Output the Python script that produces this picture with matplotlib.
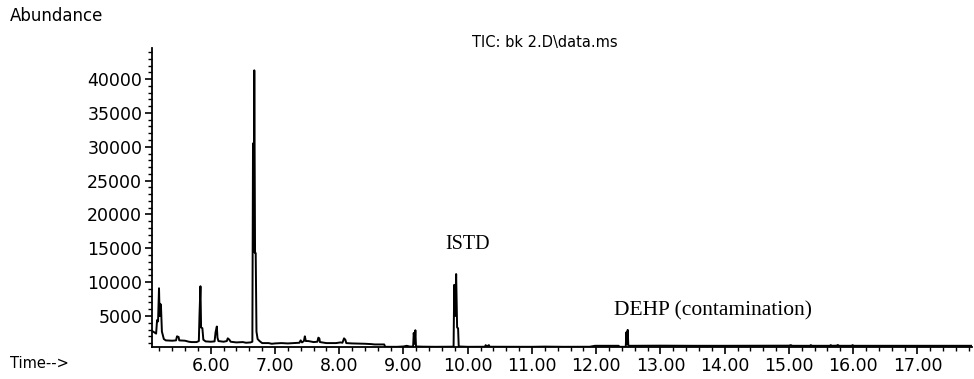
import matplotlib
matplotlib.use("Agg")
import matplotlib.pyplot as plt
from matplotlib.ticker import MultipleLocator

# Retention time (min) and abundance
time = [5.085, 5.12, 5.15, 5.165, 5.18, 5.195, 5.205, 5.215, 5.225, 5.24, 5.27, 5.30,
        5.40, 5.46, 5.475, 5.50, 5.51, 5.60, 5.66, 5.70, 5.78, 5.815, 5.825, 5.84,
        5.85, 5.87, 5.885, 5.92, 6.00, 6.06, 6.075, 6.095, 6.105, 6.12, 6.20, 6.25,
        6.265, 6.29, 6.31, 6.40, 6.50, 6.55, 6.62, 6.648, 6.658, 6.668, 6.678, 6.690,
        6.700, 6.712, 6.73, 6.76, 6.80, 6.90, 6.95, 7.00, 7.10, 7.20, 7.30, 7.38,
        7.40, 7.42, 7.45, 7.465, 7.48, 7.52, 7.60, 7.66, 7.675, 7.69, 7.70, 7.80,
        7.95, 8.02, 8.05, 8.075, 8.095, 8.11, 8.20, 8.40, 8.50, 8.55, 8.70, 8.715,
        8.90, 9.00, 9.05, 9.10, 9.15, 9.16, 9.175, 9.185, 9.195, 9.30, 9.50, 9.70,
        9.78, 9.79, 9.805, 9.82, 9.835, 9.85, 9.86, 10.00, 10.27, 10.28, 10.29, 10.33,
        10.34, 11.00, 11.20, 11.50, 11.90, 11.98, 12.35, 12.36, 12.46, 12.47, 12.48, 12.49,
        12.50, 12.55, 13.00, 13.50, 14.00, 15.00, 15.03, 15.05, 15.33, 15.34, 15.36, 15.64,
        15.65, 15.67, 15.75, 15.76, 15.78, 15.98, 15.99, 16.01, 16.50, 17.00, 17.85]
abundance = [2800, 2600, 2400, 4400, 4200, 9100, 5000, 6800, 6600, 2700, 1600, 1400,
             1350, 1400, 2000, 1900, 1400, 1350, 1200, 1150, 1150, 1300, 5100, 9400,
             3300, 3200, 1500, 1250, 1200, 1250, 2600, 3450, 1800, 1300, 1200, 1300,
             1700, 1500, 1200, 1100, 1150, 1050, 1100, 1200, 30500, 14500, 41300, 14300,
             14300, 2700, 1600, 1300, 1000, 1000, 900, 950, 1000, 950, 1000, 1050,
             1400, 1100, 1300, 2000, 1300, 1300, 1150, 1200, 1800, 1700, 1150, 1000,
             1000, 1100, 1050, 1700, 1500, 1000, 950, 900, 850, 800, 800, 450,
             450, 500, 600, 480, 480, 2500, 900, 2900, 500, 470, 450, 460,
             470, 9600, 5000, 11200, 3300, 3200, 500, 450, 460, 700, 460, 700,
             460, 450, 480, 450, 460, 600, 600, 450, 450, 2600, 900, 2950,
             600, 600, 620, 600, 600, 620, 700, 600, 600, 700, 600, 600,
             700, 600, 620, 720, 600, 600, 700, 600, 600, 600, 600]

y_ticks = [5000, 10000, 15000, 20000, 25000, 30000, 35000, 40000]
x_ticks = [6, 7, 8, 9, 10, 11, 12, 13, 14, 15, 16, 17]

fig = plt.figure(figsize=(9.74, 3.79), dpi=100)
ax = fig.add_axes([0.156, 0.0844, 0.842, 0.789])
ax.plot(time, abundance, color='black', linewidth=1.4)

ax.set_xlim(5.085, 17.85)
ax.set_ylim(420, 44600)
for s in ['top', 'right']:
    ax.spines[s].set_visible(False)
ax.spines['left'].set_linewidth(1.3)
ax.spines['bottom'].set_linewidth(1.3)

ax.set_xticks(x_ticks)
ax.set_xticklabels(['{:.2f}'.format(t) for t in x_ticks])
ax.set_yticks(y_ticks)
ax.set_yticklabels([str(v) for v in y_ticks])
ax.xaxis.set_minor_locator(MultipleLocator(0.2))
ax.yaxis.set_minor_locator(MultipleLocator(1000))
ax.tick_params(which='major', direction='out', length=5, width=1.2, labelsize=12.5, pad=2)
ax.tick_params(which='minor', direction='out', length=3, width=1.0)

ax.text(10.0, 15500, 'ISTD', family='Liberation Serif', fontsize=14.5, ha='center', va='center')
ax.text(12.27, 5700, 'DEHP (contamination)', family='Liberation Serif', fontsize=15.5,
        ha='left', va='center')

fig.text(10 / 974, 1 - 16 / 379, 'Abundance', fontsize=12, ha='left', va='center')
fig.text(545 / 974, 1 - 43 / 379, 'TIC: bk 2.D\\data.ms', fontsize=10.5, ha='center', va='center')
fig.text(10 / 974, 1 - 364 / 379, 'Time-->', fontsize=10.5, ha='left', va='center')

fig.savefig('out.png', dpi=100)
